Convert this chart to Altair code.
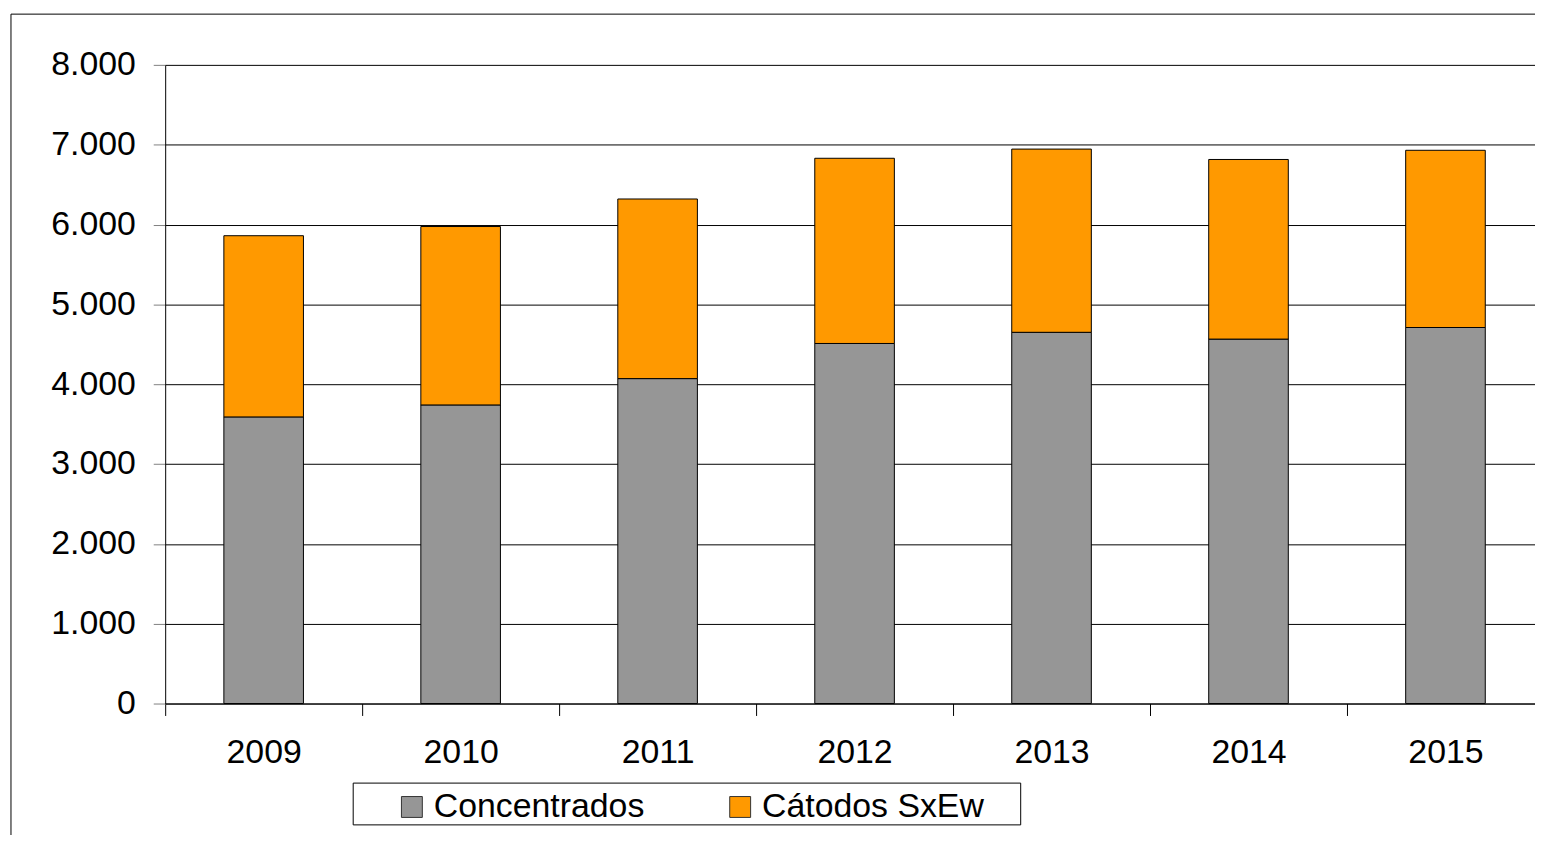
import altair as alt
import pandas as pd

years = [2009, 2010, 2011, 2012, 2013, 2014, 2015]
concentrados = [3590, 3740, 4070, 4510, 4650, 4565, 4710]
catodos = [2270, 2235, 2250, 2320, 2295, 2250, 2220]
series = ["Concentrados", "Cátodos SxEw"]
colors = ["#969696", "#FF9900"]
y_ticks = [0, 1000, 2000, 3000, 4000, 5000, 6000, 7000, 8000]

rows = []
for i, yr in enumerate(years):
    rows.append({"year": yr, "serie": series[0], "valor": concentrados[i], "orden": 0})
    rows.append({"year": yr, "serie": series[1], "valor": catodos[i], "orden": 1})
df = pd.DataFrame(rows)

# category boundaries (ticks) and centres (labels)
boundaries = [y - 0.5 for y in years]
x_values = sorted(boundaries + years)

FONT = "Liberation Sans"
FS = 34

bars = alt.Chart(df).mark_bar(width=80, stroke="black", strokeWidth=1).encode(
    x=alt.X(
        "year:Q",
        title=None,
        scale=alt.Scale(domain=[years[0] - 0.5, years[-1] + 0.4545], nice=False,
                        zero=False, padding=0),
        axis=alt.Axis(
            values=x_values,
            labelExpr="datum.value % 1 === 0 ? format(datum.value, 'd') : ''",
            labelFontSize=FS, labelFont=FONT, labelColor="black",
            labelFlush=False, labelOverlap=False,
            tickSize=12, tickColor="black", domainColor="black",
            tickOpacity=alt.ExprRef("datum.value % 1 === 0 ? 0 : 1"),
            labelPadding=20, grid=False,
        ),
    ),
    y=alt.Y(
        "valor:Q",
        stack="zero",
        title=None,
        scale=alt.Scale(domain=[0, 8000], nice=False),
        axis=alt.Axis(
            values=y_ticks,
            labelExpr="replace(format(datum.value, ','), ',', '.')",
            labelFontSize=FS, labelFont=FONT, labelColor="black",
            tickSize=12, tickColor="#808080", domainColor="black",
            labelPadding=18, grid=True, gridColor="black", gridWidth=1,
        ),
    ),
    color=alt.Color(
        "serie:N",
        sort=series,
        scale=alt.Scale(domain=series, range=colors),
        legend=alt.Legend(
            title=None, orient="none", legendX=231, legendY=729, direction="horizontal",
            symbolType="square", symbolSize=441, symbolStrokeColor="#333333",
            symbolStrokeWidth=1, symbolOpacity=1,
            labelFontSize=FS, labelFont=FONT, labelColor="black", labelLimit=500,
            labelOffset=5, columnPadding=79, padding=0,
        ),
    ),
    order=alt.Order("orden:Q", sort="ascending"),
)

one = pd.DataFrame({"k": [0]})
frame_left = alt.Chart(one).mark_rule(color="black", strokeWidth=1).encode(
    x=alt.value(-155), y=alt.value(-51), y2=alt.value(900)
)
frame_top = alt.Chart(one).mark_rule(color="black", strokeWidth=1).encode(
    x=alt.value(-155), x2=alt.value(1500), y=alt.value(-51)
)
legend_box = alt.Chart(one).mark_rect(
    fill="white", fillOpacity=0, stroke="black", strokeWidth=1
).encode(
    x=alt.value(189), x2=alt.value(860), y=alt.value(722), y2=alt.value(764)
)

chart = alt.layer(frame_left, frame_top, legend_box, bars).properties(
    width=1377,
    height=642,
    autosize=alt.AutoSizeParams(type="none"),
    padding={"left": 158, "top": 55, "right": 0, "bottom": 130},
    background="white",
).configure_view(strokeWidth=0)

chart.save("out.html", embed_options={"renderer": "svg", "actions": False})
